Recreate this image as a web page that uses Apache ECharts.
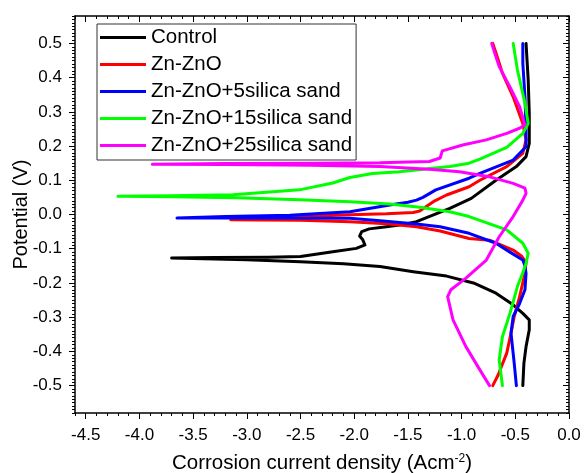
<!DOCTYPE html>
<html>
<head>
<meta charset="utf-8">
<script src="https://cdn.jsdelivr.net/npm/echarts@6/dist/echarts.min.js"></script>
<style>
html,body{margin:0;padding:0;background:#fff;}
#chart{width:584px;height:473px;}
</style>
</head>
<body>
<div id="chart"></div>
<script>
// Tick labels
const xTickLabels = [-4.5, -4.0, -3.5, -3.0, -2.5, -2.0, -1.5, -1.0, -0.5, 0.0];
const yTickLabels = [-0.5, -0.4, -0.3, -0.2, -0.1, 0.0, 0.1, 0.2, 0.3, 0.4, 0.5];

// Series names
const seriesNames = ['Control', 'Zn-ZnO', 'Zn-ZnO+5silica sand', 'Zn-ZnO+15silica sand', 'Zn-ZnO+25silica sand'];

// [log current density, potential], in scan order
const controlData = [
  [-0.43,-0.5],[-0.42,-0.435],[-0.40,-0.386],[-0.37,-0.337],[-0.37,-0.308],[-0.43,-0.289],
  [-0.52,-0.264],[-0.68,-0.23],[-0.89,-0.20],[-1.14,-0.18],[-1.45,-0.167],[-1.76,-0.152],
  [-2.1,-0.144],[-2.5,-0.138],[-3.0,-0.132],[-3.4,-0.129],[-3.70,-0.127],[-3.3,-0.126],
  [-2.8,-0.125],[-2.5,-0.123],[-2.2,-0.109],[-1.98,-0.099],[-1.90,-0.089],[-1.92,-0.074],
  [-1.95,-0.063],[-1.93,-0.050],[-1.86,-0.042],[-1.70,-0.036],[-1.58,-0.031],[-1.42,-0.021],
  [-1.11,0.018],[-0.91,0.047],[-0.68,0.10],[-0.49,0.14],[-0.40,0.169],[-0.37,0.208],
  [-0.37,0.296],[-0.38,0.394],[-0.40,0.5]
];
const znznoData = [
  [-0.71,-0.5],[-0.66,-0.469],[-0.58,-0.405],[-0.54,-0.347],[-0.51,-0.298],[-0.46,-0.24],
  [-0.41,-0.172],[-0.40,-0.14],[-0.44,-0.122],[-0.52,-0.104],[-0.74,-0.075],[-0.93,-0.07],
  [-1.2,-0.048],[-1.42,-0.036],[-1.7,-0.027],[-2.04,-0.021],[-2.5,-0.017],[-2.9,-0.016],
  [-3.15,-0.015],[-2.8,-0.009],[-2.4,-0.005],[-2.04,-0.001],[-1.7,0.002],[-1.45,0.006],
  [-1.39,0.01],[-1.25,0.04],[-1.14,0.057],[-0.93,0.081],[-0.83,0.10],[-0.58,0.14],
  [-0.43,0.179],[-0.40,0.218],[-0.43,0.266],[-0.52,0.344],[-0.62,0.413],[-0.68,0.472],[-0.71,0.5]
];
const sand5Data = [
  [-0.49,-0.5],[-0.51,-0.435],[-0.54,-0.347],[-0.52,-0.298],[-0.46,-0.26],[-0.41,-0.22],
  [-0.40,-0.172],[-0.41,-0.15],[-0.43,-0.133],[-0.55,-0.11],[-0.68,-0.084],[-0.93,-0.055],
  [-1.2,-0.036],[-1.42,-0.028],[-1.76,-0.018],[-2.04,-0.011],[-2.6,-0.010],[-3.2,-0.010],
  [-3.65,-0.010],[-3.2,-0.006],[-2.6,-0.002],[-2.04,0.008],[-1.67,0.028],[-1.50,0.036],
  [-1.42,0.042],[-1.36,0.05],[-1.24,0.072],[-0.93,0.106],[-0.83,0.12],[-0.52,0.159],
  [-0.40,0.198],[-0.40,0.247],[-0.41,0.344],[-0.43,0.442],[-0.43,0.5]
];
const sand15Data = [
  [-0.62,-0.5],[-0.65,-0.425],[-0.62,-0.357],[-0.55,-0.289],[-0.48,-0.21],[-0.43,-0.17],
  [-0.40,-0.143],[-0.38,-0.113],[-0.43,-0.084],[-0.58,-0.045],[-0.93,-0.006],[-1.11,0.008],
  [-1.39,0.021],[-1.67,0.031],[-2.04,0.037],[-2.51,0.043],[-3.1,0.049],[-3.7,0.052],
  [-4.20,0.053],[-3.7,0.055],[-3.13,0.058],[-2.51,0.072],[-2.2,0.092],[-2.04,0.108],
  [-1.83,0.12],[-1.58,0.125],[-1.11,0.14],[-0.93,0.15],[-0.83,0.162],[-0.58,0.196],
  [-0.43,0.237],[-0.38,0.266],[-0.41,0.325],[-0.48,0.422],[-0.52,0.5]
];
const sand25Data = [
  [-0.74,-0.5],[-0.83,-0.454],[-0.96,-0.386],[-1.08,-0.308],[-1.13,-0.24],[-1.10,-0.22],
  [-0.96,-0.186],[-0.77,-0.133],[-0.65,-0.065],[-0.52,-0.006],[-0.43,0.042],[-0.40,0.062],
  [-0.41,0.077],[-0.52,0.091],[-0.74,0.11],[-1.02,0.125],[-1.30,0.132],[-1.76,0.14],
  [-2.4,0.144],[-3.2,0.146],[-3.88,0.147],[-3.2,0.149],[-2.4,0.150],[-1.76,0.151],
  [-1.30,0.155],[-1.20,0.165],[-1.18,0.186],[-0.99,0.203],[-0.77,0.218],[-0.58,0.237],
  [-0.46,0.252],[-0.41,0.262],[-0.46,0.315],[-0.55,0.373],[-0.65,0.432],[-0.69,0.47],[-0.72,0.5]
];

const seriesColors = ['#000000', '#ff0000', '#0000ff', '#00ff00', '#ff00ff'];
const allData = [controlData, znznoData, sand5Data, sand15Data, sand25Data];

const FONT = '"Liberation Sans", Arial, sans-serif';
const X_MIN = -4.6, X_MAX = 0, Y_MIN = -0.58, Y_MAX = 0.58;

const chart = echarts.init(document.getElementById('chart'), null, {renderer: 'canvas'});

function baseX(extra) {
  return Object.assign({
    type: 'value', min: X_MIN, max: X_MAX, gridIndex: 0,
    splitLine: {show: false}, axisPointer: {show: false}
  }, extra);
}
function baseY(extra) {
  return Object.assign({
    type: 'value', min: Y_MIN, max: Y_MAX, gridIndex: 0,
    splitLine: {show: false}, axisPointer: {show: false}
  }, extra);
}
const fmt = v => Number(v).toFixed(1);

const option = {
  backgroundColor: '#ffffff',
  animation: false,
  textStyle: {fontFamily: FONT},
  grid: {left: 75, right: 15, top: 16, bottom: 60, containLabel: false, outerBoundsMode: 'none'},
  legend: {
    show: true,
    orient: 'vertical',
    left: 97, top: 24,
    padding: [3, 4, 4, 3],
    itemGap: 6,
    itemWidth: 46,
    itemHeight: 14,
    backgroundColor: '#ffffff',
    borderColor: '#333333',
    borderWidth: 1,
    borderRadius: 0,
    textStyle: {fontSize: 20.5, color: '#000', fontFamily: FONT},
    data: seriesNames.map(n => ({name: n, icon: 'path://M0,0 L46,0 L46,3 L0,3 Z'}))
  },
  xAxis: [
    baseX({
      position: 'bottom', interval: 0.1,
      axisLine: {show: true, onZero: false, lineStyle: {color: '#000', width: 1.5}},
      axisTick: {show: true, inside: false, length: 3, lineStyle: {color: '#000', width: 1}},
      axisLabel: {show: true, customValues: xTickLabels, formatter: fmt, fontSize: 17, color: '#000', margin: 14, fontFamily: FONT},
      name: 'Corrosion current density (Acm{sup|-2})',
      nameLocation: 'middle', nameGap: 40, nameMoveOverlap: false,
      nameTextStyle: {fontSize: 20.5, color: '#000', fontFamily: FONT,
        rich: {sup: {fontSize: 12, verticalAlign: 'top', color: '#000', fontFamily: FONT}}}
    }),
    baseX({
      position: 'bottom',
      axisLine: {show: false, onZero: false},
      axisTick: {show: true, inside: false, customValues: xTickLabels, length: 6, lineStyle: {color: '#000', width: 1}},
      axisLabel: {show: false}
    }),
    baseX({
      position: 'top', interval: 0.1,
      axisLine: {show: true, onZero: false, lineStyle: {color: '#000', width: 1.5}},
      axisTick: {show: true, inside: true, length: 3, lineStyle: {color: '#000', width: 1}},
      axisLabel: {show: false}
    }),
    baseX({
      position: 'top',
      axisLine: {show: false, onZero: false},
      axisTick: {show: true, inside: true, customValues: xTickLabels, length: 6, lineStyle: {color: '#000', width: 1}},
      axisLabel: {show: false}
    })
  ],
  yAxis: [
    baseY({
      position: 'left', interval: 0.01,
      axisLine: {show: true, onZero: false, lineStyle: {color: '#000', width: 1.5}},
      axisTick: {show: true, inside: false, length: 3, lineStyle: {color: '#000', width: 1}},
      axisLabel: {show: true, customValues: yTickLabels, formatter: fmt, fontSize: 17, color: '#000', margin: 13, fontFamily: FONT},
      name: 'Potential (V)', nameLocation: 'middle', nameGap: 44, nameMoveOverlap: false,
      nameTextStyle: {fontSize: 20, color: '#000', fontFamily: FONT}
    }),
    baseY({
      position: 'left',
      axisLine: {show: false, onZero: false},
      axisTick: {show: true, inside: false, customValues: yTickLabels, length: 6, lineStyle: {color: '#000', width: 1}},
      axisLabel: {show: false}
    }),
    baseY({
      position: 'right', interval: 0.01,
      axisLine: {show: true, onZero: false, lineStyle: {color: '#000', width: 1.5}},
      axisTick: {show: true, inside: true, length: 3, lineStyle: {color: '#000', width: 1}},
      axisLabel: {show: false}
    }),
    baseY({
      position: 'right',
      axisLine: {show: false, onZero: false},
      axisTick: {show: true, inside: true, customValues: yTickLabels, length: 6, lineStyle: {color: '#000', width: 1}},
      axisLabel: {show: false}
    })
  ],
  series: seriesNames.map((name, i) => ({
    name: name,
    type: 'line',
    xAxisIndex: 0,
    yAxisIndex: 0,
    data: allData[i],
    symbol: 'none',
    showSymbol: false,
    smooth: false,
    clip: true,
    color: seriesColors[i],
    lineStyle: {color: seriesColors[i], width: 3, join: 'round', cap: 'round'},
    z: 2 + i
  }))
};
chart.setOption(option);
</script>
</body>
</html>
